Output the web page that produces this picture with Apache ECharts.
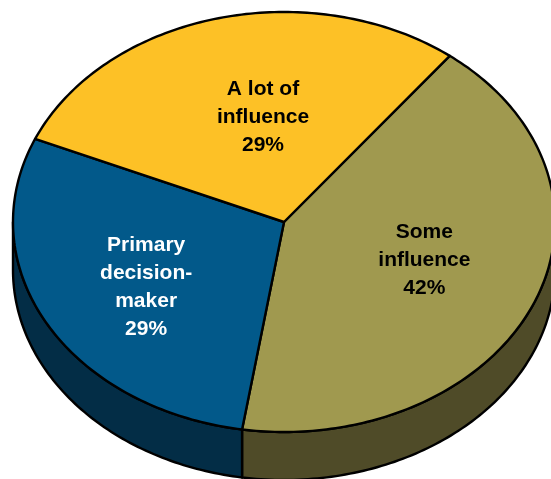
<!DOCTYPE html>
<html><head><meta charset="utf-8">
<script src="https://cdn.jsdelivr.net/npm/echarts@6/dist/echarts.min.js"></script>
<style>html,body{margin:0;padding:0;background:#fff}#c{width:551px;height:479px}</style>
</head><body><div id="c"></div>
<script>
// ---- data ----
const categories = ['Some influence', 'Primary decision-maker', 'A lot of influence'];
const labelTexts = ['Some\ninfluence', 'Primary\ndecision-\nmaker', 'A lot of\ninfluence'];
const values = [42, 29, 29];

// ---- style ----
const topColors = ['#A0994F', '#02598A', '#FDC126'];
const sideColors = ['#4F4B28', '#032D46', '#7F6012'];
const labelColors = ['#000000', '#ffffff', '#000000'];
const labelNudge = { 'Some influence': [1, -8], 'Primary decision-maker': [-5, 8], 'A lot of influence': [17, 9] };
const START = 52.3;           // start angle (deg), slices run clockwise
const CX = 284, CY = 222, RX = 271, RY = 210, DEPTH = 48, LABEL_R = 0.56;

const total = values.reduce((a, b) => a + b, 0);
const cum = [];
values.reduce((acc, v, i) => { cum[i] = acc; return acc + v; }, 0);

function pt(deg, dy) {
  const r = deg * Math.PI / 180;
  return [CX + RX * Math.cos(r), CY - RY * Math.sin(r) + (dy || 0)];
}
function arc(from, to, dy) {
  const pts = [];
  const n = Math.max(2, Math.ceil(Math.abs(to - from) / 1));
  for (let k = 0; k <= n; k++) pts.push(pt(from + (to - from) * k / n, dy));
  return pts;
}

function renderItem(params, api) {
  const i = params.dataIndex;
  const v = api.value(0);
  const a0 = START - 360 * cum[i] / total;
  const a1 = a0 - 360 * v / total;
  const children = [];
  const lo = Math.max(a1, -180), hi = Math.min(a0, 0);
  if (hi > lo) {
    const top = arc(lo, hi, 0);
    const bot = arc(hi, lo, DEPTH);
    children.push({
      type: 'polygon', shape: { points: top.concat(bot) },
      style: { fill: sideColors[i], stroke: '#000', lineWidth: 2.4, lineJoin: 'round' }, z2: 1
    });
  }
  children.push({
    type: 'polygon', shape: { points: [[CX, CY]].concat(arc(a0, a1, 0)) },
    style: { fill: topColors[i], stroke: '#000', lineWidth: 2.4, lineJoin: 'round' }, z2: 2
  });
  const mid = (a0 + a1) / 2 * Math.PI / 180;
  const nud = labelNudge[categories[i]] || [0, 0];
  const lx = CX + RX * LABEL_R * Math.cos(mid) + nud[0];
  const ly = CY - RY * LABEL_R * Math.sin(mid) + nud[1];
  children.push({
    type: 'text', z2: 10,
    style: {
      text: labelTexts[i] + '\n' + Math.round(v / total * 100) + '%',
      x: lx, y: ly, fill: labelColors[i],
      font: 'bold 21px "Liberation Sans", Arial, sans-serif',
      lineHeight: 28, align: 'center', verticalAlign: 'middle'
    }
  });
  return { type: 'group', children: children };
}

const chart = echarts.init(document.getElementById('c'), null, { renderer: 'canvas' });
chart.setOption({
  animation: false,
  backgroundColor: '#ffffff',
  series: [{
    type: 'custom',
    coordinateSystem: 'none',
    renderItem: renderItem,
    data: values.map((v, i) => ({ name: categories[i], value: [v] }))
  }]
});
</script></body></html>
